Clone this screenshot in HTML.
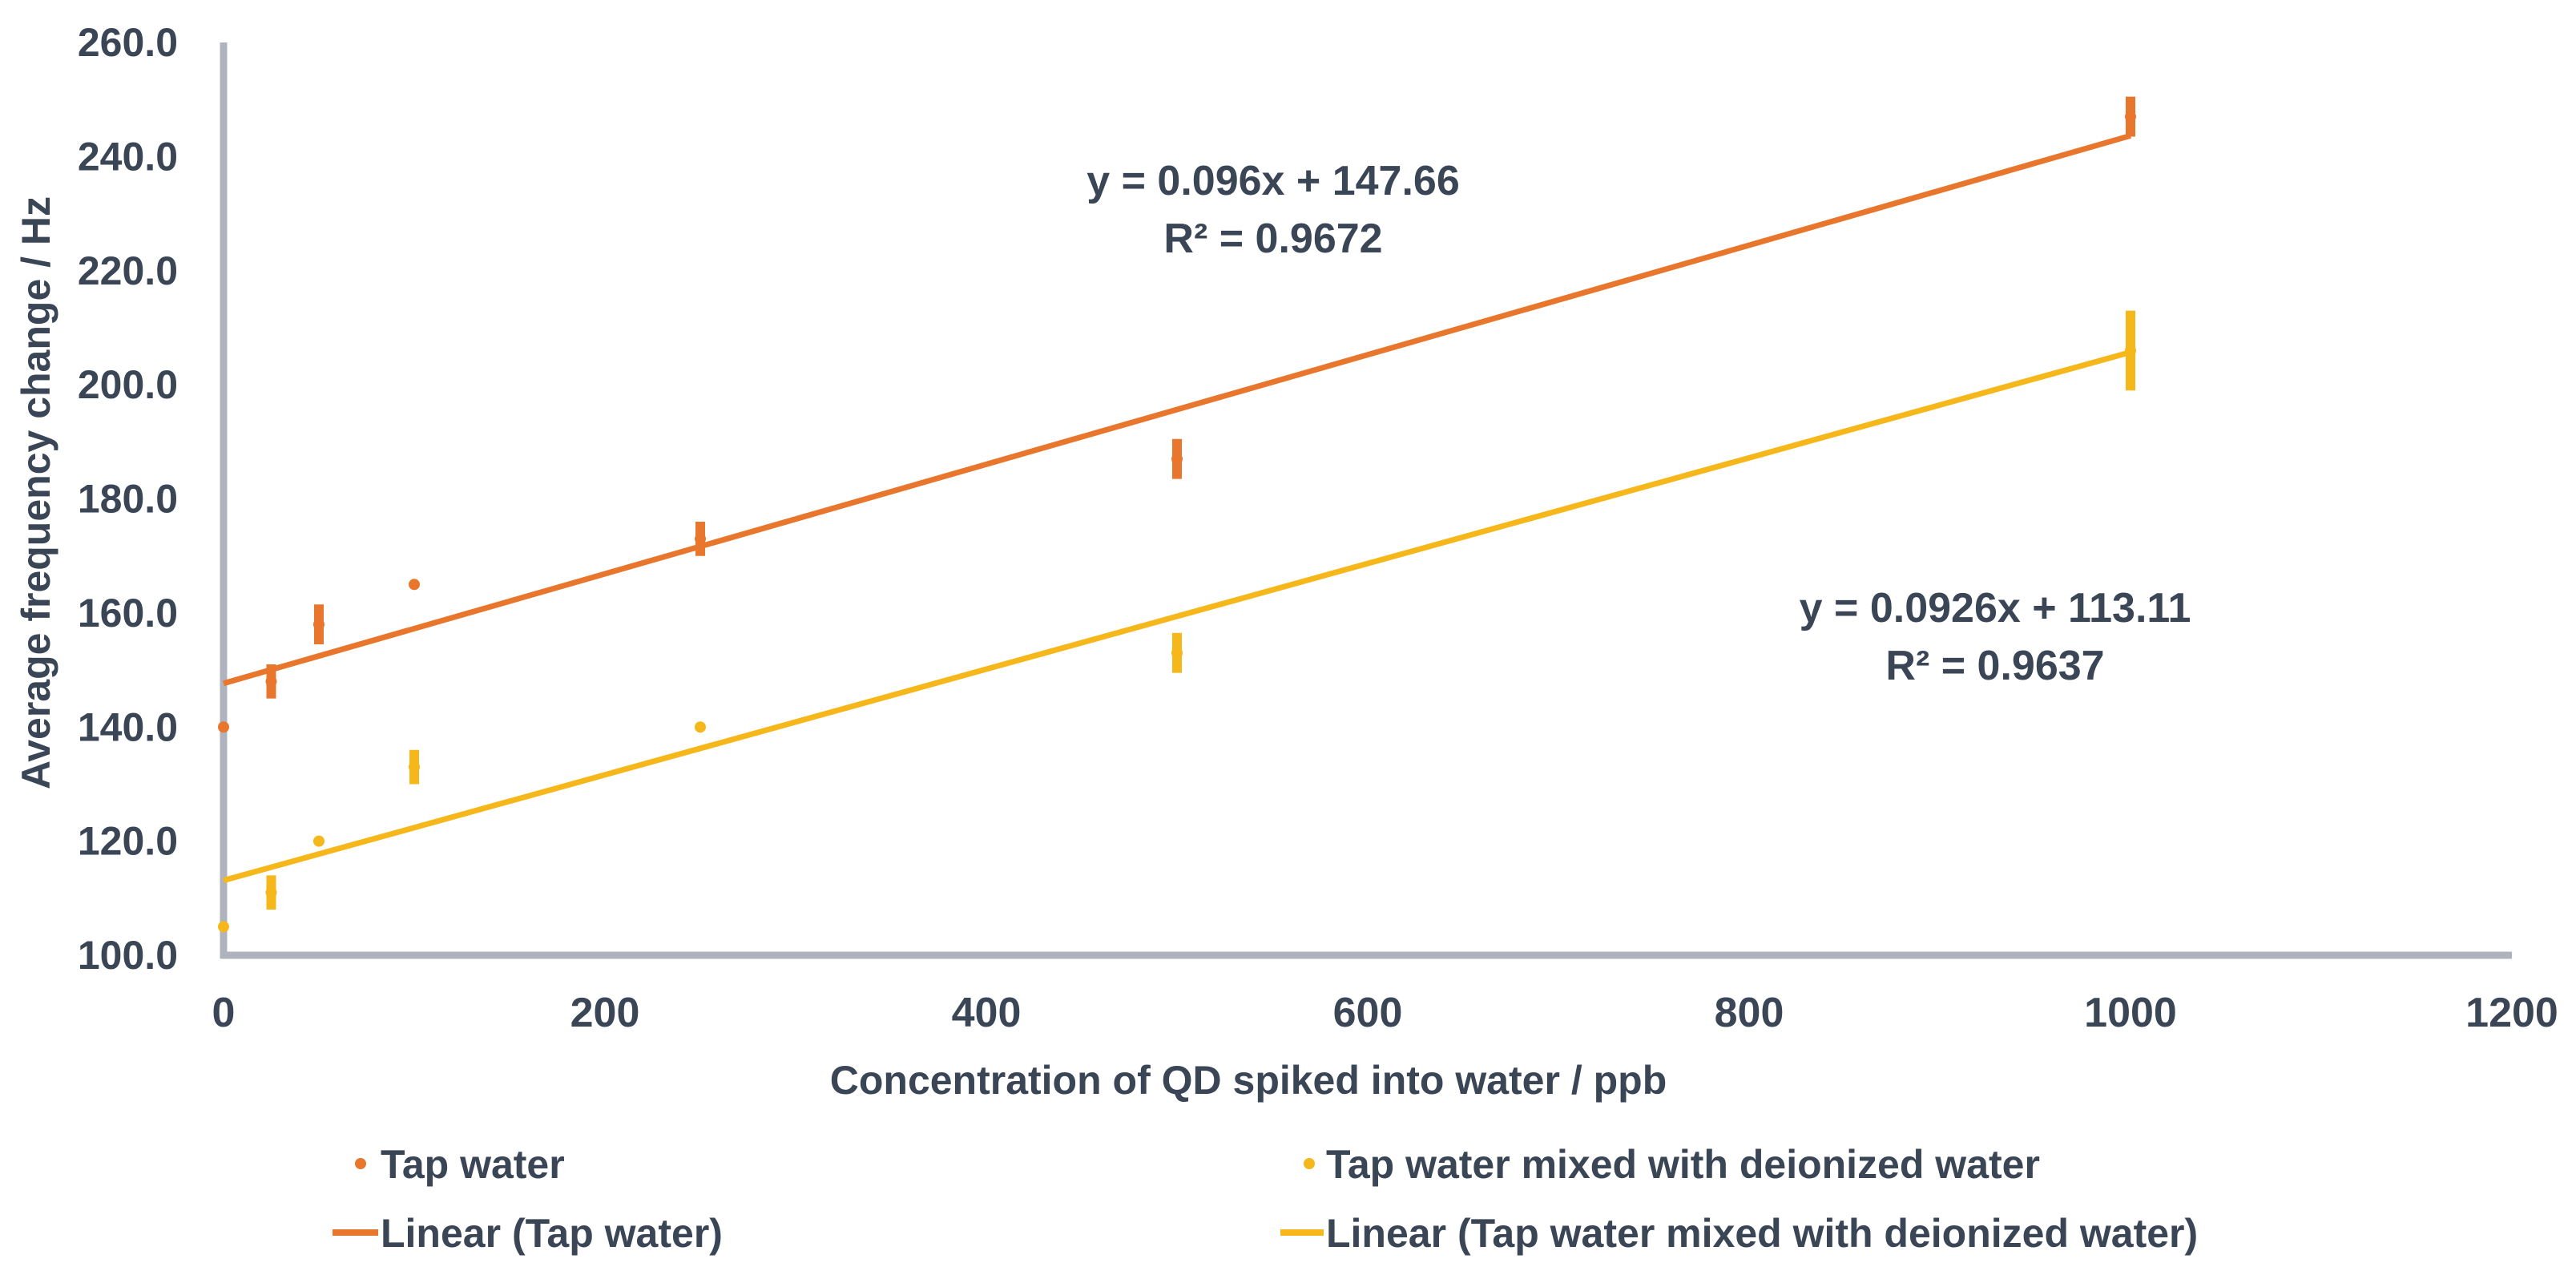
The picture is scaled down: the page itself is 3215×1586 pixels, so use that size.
<!DOCTYPE html>
<html><head><meta charset="utf-8"><style>
html,body{margin:0;padding:0;background:#fff;}
svg{display:block;}
text{font-family:"Liberation Sans",sans-serif;font-weight:bold;fill:#3A4555;}
</style></head><body>
<svg id="chart" width="3215" height="1586" viewBox="0 0 3215 1586" xmlns="http://www.w3.org/2000/svg">
<g id="grid"></g>
<g id="marks"></g>
<text transform="translate(62,615) rotate(-90)" text-anchor="middle" font-size="50">Average frequency change / Hz</text>
<text x="1558" y="1365" text-anchor="middle" font-size="50">Concentration of QD spiked into water / ppb</text>
<text x="1589" y="243" text-anchor="middle" font-size="52">y = 0.096x + 147.66</text>
<text x="1589" y="315" text-anchor="middle" font-size="52">R² = 0.9672</text>
<text x="2490" y="776" text-anchor="middle" font-size="52">y = 0.0926x + 113.11</text>
<text x="2490" y="848" text-anchor="middle" font-size="52">R² = 0.9637</text>
<g>
  <circle cx="450" cy="1452" r="7" fill="#E8762C"/>
  <text x="475" y="1470" font-size="50">Tap water</text>
  <circle cx="1634" cy="1452" r="7" fill="#F5B719"/>
  <text x="1655" y="1470" font-size="50">Tap water mixed with deionized water</text>
  <line x1="415" y1="1538" x2="472" y2="1538" stroke="#E8762C" stroke-width="8"/>
  <text x="475" y="1556" font-size="50">Linear (Tap water)</text>
  <line x1="1598" y1="1538" x2="1652" y2="1538" stroke="#F5B719" stroke-width="8"/>
  <text x="1655" y="1556" font-size="50">Linear (Tap water mixed with deionized water)</text>
</g>
</svg>
<script>
const xTicks = [0, 200, 400, 600, 800, 1000, 1200];
const yTicks = [100, 120, 140, 160, 180, 200, 220, 240, 260];
const conc = [0, 25, 50, 100, 250, 500, 1000];
const tapValues = [140, 148, 158, 165, 173, 187, 247];
const tapErrors = [0, 3, 3.5, 0, 3, 3.5, 3.5];
const mixedValues = [105, 111, 120, 133, 140, 153, 206];
const mixedErrors = [0, 3, 0, 3, 0, 3.5, 7];
const tapFit = [0.096, 147.66];
const mixedFit = [0.0926, 113.11];

const NS = 'http://www.w3.org/2000/svg';
const X0 = 279, X1 = 3135, Y0 = 1192, Y1 = 53;
function sx(v){ return X0 + (v - 0) / (1200 - 0) * (X1 - X0); }
function sy(v){ return Y0 - (v - 100) / (260 - 100) * (Y0 - Y1); }
function mk(tag, attrs, parent){ const e = document.createElementNS(NS, tag); for (const k in attrs) e.setAttribute(k, attrs[k]); parent.appendChild(e); return e; }
const grid = document.getElementById('grid');
const marks = document.getElementById('marks');

yTicks.forEach(t => {
  const e = mk('text', {x: 222, y: sy(t) + 17, 'text-anchor': 'end', 'font-size': 50}, grid);
  e.textContent = t.toFixed(1);
  
  
});
xTicks.forEach(t => {
  const e = mk('text', {x: sx(t), y: 1281, 'text-anchor': 'middle', 'font-size': 52}, grid);
  e.textContent = t;
  
  
});
const ya = mk('line', {x1: X0, y1: Y1, x2: X0, y2: Y0 + 4, stroke: '#AEB3BE', 'stroke-width': 9}, grid);


const xa = mk('line', {x1: X0 - 4, y1: Y0, x2: X1, y2: Y0, stroke: '#AEB3BE', 'stroke-width': 9}, grid);



function trend(fit, color, name){
  const l = mk('line', {x1: sx(0), y1: sy(fit[1]), x2: sx(1000), y2: sy(fit[0]*1000 + fit[1]), stroke: color, 'stroke-width': 7}, marks);
  
  
}
function series(vals, errs, color, name){
  vals.forEach((v, i) => {
    if (errs[i] > 0) {
      const eb = mk('line', {x1: sx(conc[i]), y1: sy(v + errs[i]), x2: sx(conc[i]), y2: sy(v - errs[i]), stroke: color, 'stroke-width': 12}, marks);
      
      
    }
    const c = mk('circle', {cx: sx(conc[i]), cy: sy(v), r: 7, fill: color}, marks);
    
    
  });
}
trend(tapFit, '#E8762C', 'trendline-tap');
trend(mixedFit, '#F5B719', 'trendline-mixed');
series(tapValues, tapErrors, '#E8762C', 'tap');
series(mixedValues, mixedErrors, '#F5B719', 'mixed');
</script>
</body></html>
